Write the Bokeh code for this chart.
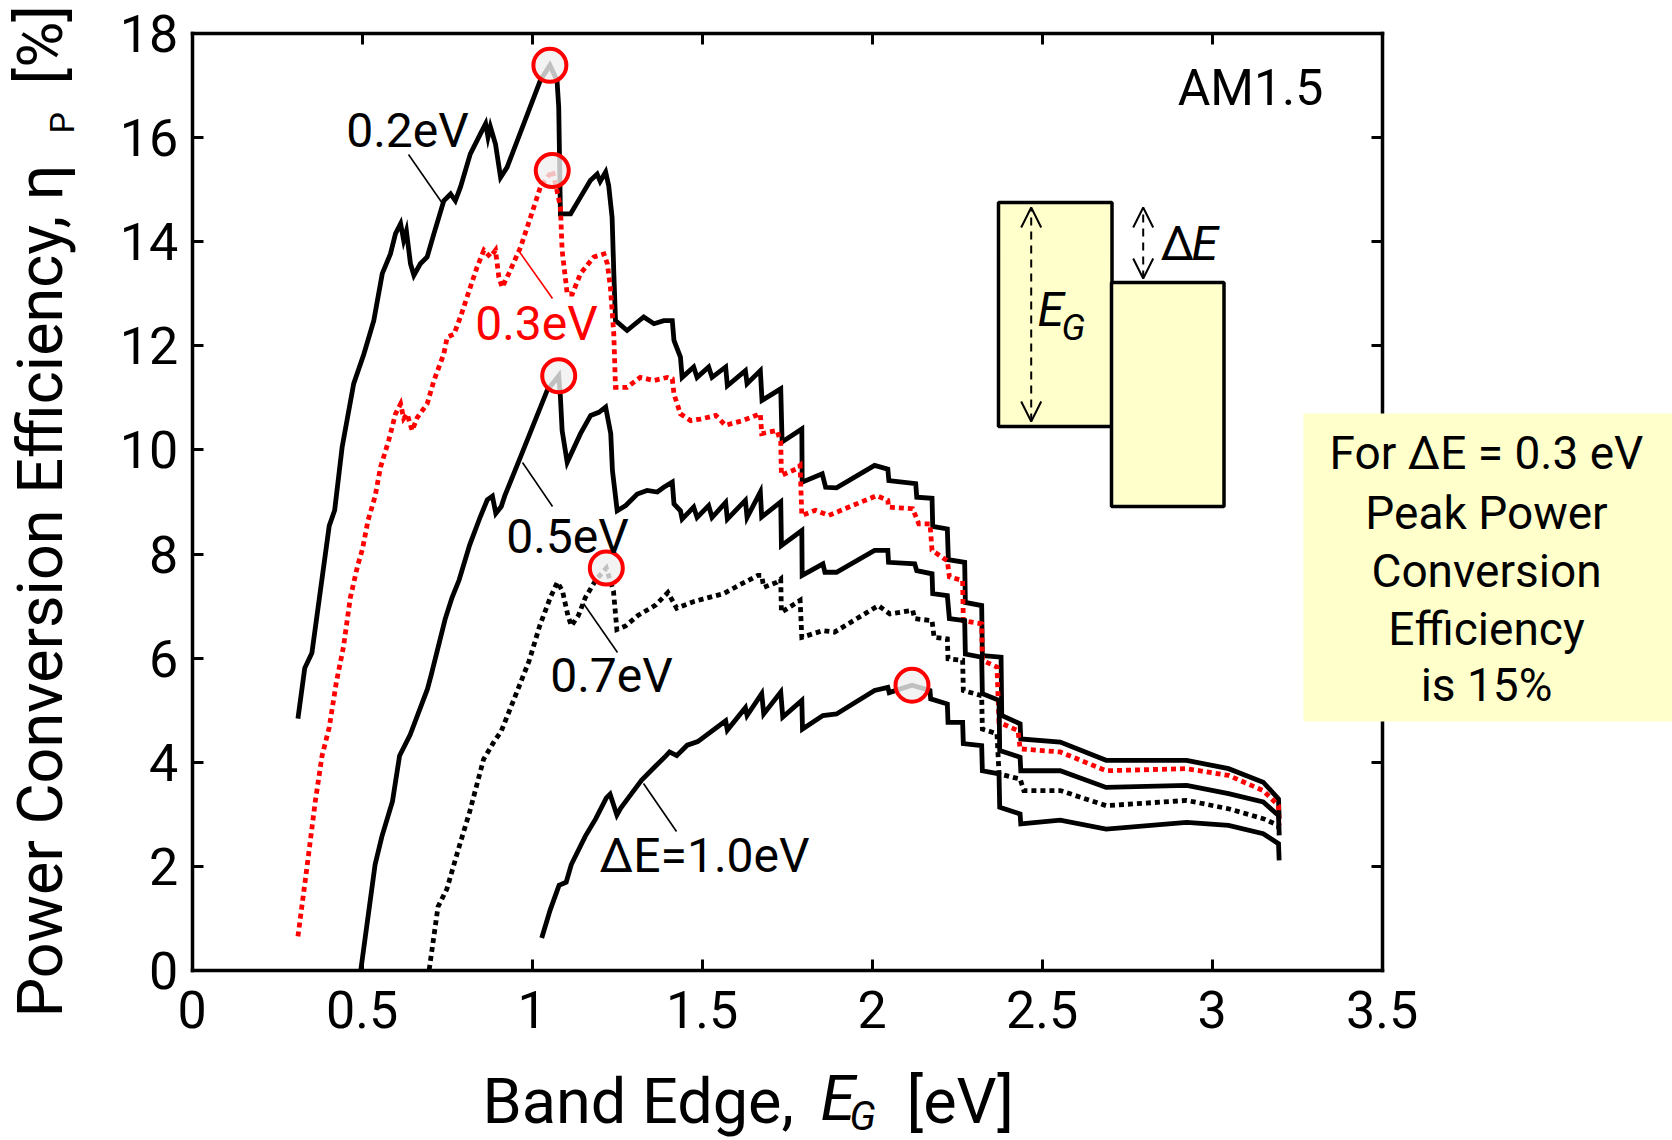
import numpy as np
from bokeh.plotting import figure
from bokeh.models import (Range1d, LinearAxis, FixedTicker, CustomJSTickFormatter,
                          Label, Arrow, OpenHead, BoxAnnotation)
from bokeh.embed import file_html
from bokeh.resources import INLINE

FONT = "Roboto"
RED = "#ff0000"
YELLOW = "#ffffcc"

# ---------------- data ----------------
x_ticks = [0, 0.5, 1, 1.5, 2, 2.5, 3, 3.5]
y_ticks = [0, 2, 4, 6, 8, 10, 12, 14, 16, 18]

e_02 = [0.311,0.331,0.352,0.403,0.419,0.441,0.475,0.505,0.534,0.559,0.583,0.598,0.613,0.622,0.630,0.642,0.652,0.671,0.691,0.711,0.740,0.760,0.774,0.789,0.818,0.848,0.863,0.870,0.877,0.892,0.907,0.926,1.024,1.052,1.073,1.078,1.083,1.113,1.142,1.171,1.191,1.200,1.216,1.225,1.235,1.240,1.245,1.279,1.328,1.358,1.387,1.412,1.417,1.436,1.441,1.475,1.485,1.519,1.529,1.569,1.574,1.627,1.632,1.671,1.676,1.731,1.735,1.793,1.794,1.853,1.863,1.895,2.007,2.046,2.049,2.128,2.131,2.176,2.178,2.221,2.224,2.272,2.274,2.322,2.324,2.379,2.381,2.435,2.437,2.553,2.688,2.925,3.048,3.150,3.195,3.197]
eta_02 = [4.84,5.81,6.10,8.54,8.84,10.05,11.27,11.84,12.48,13.38,13.76,14.15,14.34,14.02,14.20,13.57,13.35,13.57,13.70,14.15,14.78,14.91,14.78,15.04,15.68,16.07,16.26,16.00,16.20,15.87,15.23,15.42,17.09,17.38,17.09,16.58,14.53,14.53,14.85,15.17,15.29,15.15,15.33,15.07,14.46,13.40,12.48,12.29,12.55,12.42,12.48,12.48,12.10,11.78,11.39,11.59,11.39,11.59,11.39,11.59,11.23,11.52,11.27,11.52,10.95,11.17,10.15,10.40,9.38,9.54,9.28,9.27,9.70,9.63,9.41,9.35,9.09,9.07,8.53,8.48,7.89,7.84,7.07,7.01,6.05,6.02,4.90,4.74,4.45,4.39,4.04,4.04,3.88,3.62,3.30,2.92]

e_03 = [0.311,0.336,0.362,0.382,0.403,0.424,0.445,0.465,0.486,0.501,0.517,0.538,0.554,0.578,0.598,0.613,0.622,0.632,0.647,0.662,0.691,0.711,0.740,0.750,0.770,0.789,0.818,0.838,0.858,0.877,0.892,0.902,0.912,0.931,0.966,1.005,1.024,1.059,1.073,1.083,1.088,1.103,1.118,1.142,1.181,1.211,1.221,1.230,1.240,1.245,1.279,1.318,1.358,1.397,1.412,1.417,1.436,1.466,1.495,1.540,1.568,1.619,1.671,1.675,1.720,1.731,1.733,1.776,1.788,1.793,1.833,1.872,2.013,2.046,2.048,2.119,2.137,2.170,2.176,2.221,2.227,2.266,2.268,2.322,2.324,2.367,2.373,2.429,2.435,2.553,2.688,2.925,3.048,3.150,3.195,3.197]
eta_03 = [0.66,1.91,3.25,4.13,4.67,5.54,6.22,7.16,7.76,8.10,8.64,9.11,9.67,10.18,10.69,10.88,10.60,10.69,10.37,10.62,10.88,11.33,11.84,12.16,12.22,12.55,13.12,13.51,13.83,13.70,13.83,13.31,13.12,13.38,13.89,14.66,15.04,15.36,14.97,14.66,13.83,12.99,12.99,13.38,13.70,13.76,13.57,13.12,12.22,11.20,11.20,11.39,11.33,11.39,11.36,11.07,10.69,10.56,10.59,10.66,10.47,10.56,10.69,10.31,10.37,10.15,9.51,9.63,9.70,8.74,8.84,8.74,9.12,9.03,8.90,8.87,8.58,8.58,8.07,7.87,7.56,7.49,6.72,6.66,5.96,5.83,4.77,4.61,4.26,4.20,3.84,3.88,3.75,3.46,3.17,2.79]

e_05 = [0.496,0.517,0.538,0.558,0.589,0.610,0.641,0.692,0.703,0.744,0.764,0.785,0.816,0.847,0.868,0.883,0.893,0.909,0.919,0.971,1.044,1.078,1.083,1.088,1.103,1.142,1.172,1.196,1.216,1.231,1.236,1.250,1.275,1.309,1.338,1.368,1.387,1.412,1.417,1.436,1.441,1.475,1.485,1.519,1.529,1.569,1.574,1.627,1.632,1.671,1.675,1.731,1.733,1.793,1.794,1.855,1.861,1.895,2.007,2.046,2.048,2.125,2.131,2.176,2.178,2.221,2.227,2.272,2.274,2.322,2.324,2.373,2.375,2.435,2.437,2.553,2.688,2.925,3.048,3.150,3.195,3.197]
eta_05 = [0.02,1.03,2.04,2.58,3.25,4.13,4.53,5.41,5.68,6.75,7.16,7.50,8.17,8.71,9.04,9.11,8.78,8.91,9.11,9.95,11.14,11.42,11.01,10.37,9.76,10.31,10.66,10.72,10.82,10.31,9.60,8.83,8.93,9.15,9.22,9.19,9.28,9.38,8.96,8.83,8.67,8.90,8.70,8.93,8.70,8.99,8.67,9.03,8.70,9.19,8.71,9.00,8.16,8.45,7.59,7.81,7.65,7.65,8.07,8.07,7.84,7.81,7.68,7.62,7.24,7.20,6.76,6.72,6.08,6.02,5.32,5.19,4.23,4.10,3.84,3.84,3.52,3.56,3.40,3.24,2.98,2.63]

e_07 = [0.697,0.723,0.749,0.785,0.816,0.857,0.888,0.909,0.950,0.991,1.022,1.053,1.074,1.089,1.105,1.115,1.136,1.156,1.187,1.218,1.239,1.249,1.275,1.311,1.363,1.399,1.425,1.476,1.563,1.608,1.664,1.675,1.681,1.720,1.731,1.733,1.788,1.793,1.855,1.889,2.018,2.052,2.119,2.125,2.176,2.182,2.221,2.223,2.266,2.268,2.322,2.324,2.367,2.373,2.435,2.446,2.553,2.688,2.925,3.048,3.150,3.195,3.197]
eta_07 = [0.02,1.23,1.57,2.38,3.05,4.06,4.40,4.60,5.27,5.95,6.62,7.16,7.46,7.29,6.82,6.62,6.82,7.16,7.50,7.73,7.29,6.55,6.62,6.82,7.02,7.26,6.96,7.09,7.24,7.40,7.59,7.59,7.36,7.46,7.52,6.88,7.11,6.40,6.53,6.50,7.01,6.85,6.92,6.76,6.72,6.40,6.37,5.99,5.96,5.38,5.28,4.64,4.55,3.78,3.68,3.46,3.46,3.17,3.27,3.11,2.92,2.79,2.60]

e_10 = [1.028,1.053,1.079,1.100,1.115,1.156,1.187,1.218,1.229,1.239,1.249,1.260,1.291,1.322,1.363,1.394,1.404,1.425,1.456,1.487,1.569,1.574,1.627,1.632,1.675,1.681,1.731,1.737,1.793,1.795,1.855,1.895,2.007,2.046,2.050,2.117,2.170,2.172,2.221,2.223,2.266,2.268,2.322,2.324,2.373,2.375,2.435,2.437,2.553,2.688,2.925,3.048,3.150,3.195,3.197]
eta_10 = [0.63,1.17,1.64,1.70,2.04,2.58,2.92,3.32,3.39,3.19,2.99,3.12,3.39,3.66,3.93,4.13,4.20,4.13,4.33,4.40,4.80,4.62,5.05,4.90,5.32,4.93,5.35,4.87,5.19,4.64,4.90,4.93,5.38,5.44,5.34,5.48,5.38,5.22,5.12,4.77,4.77,4.36,4.32,3.84,3.78,3.14,3.01,2.82,2.89,2.72,2.85,2.79,2.63,2.44,2.12]

series_names = ["0.2eV", "0.3eV", "0.5eV", "0.7eV", "\u0394E=1.0eV"]
series_e = [e_02, e_03, e_05, e_07, e_10]
series_eta = [eta_02, eta_03, eta_05, eta_07, eta_10]
series_color = ["black", RED, "black", "black", "black"]
series_dash = ["solid", "5 4", "solid", "5 4", "solid"]

# ---------------- figure: frame covers the whole canvas ----------------
W, H = 1672, 1140
X0, PXU = 191.7, 340.0      # pixel of E=0, pixels per eV
Y0, PYU = 970.3, 52.1       # pixel of eta=0, pixels per %
K = 0.36                    # empirical baseline correction (em)

p = figure(width=W, height=H,
           x_range=Range1d(-X0 / PXU, (W - X0) / PXU),
           y_range=Range1d((Y0 - H) / PYU, Y0 / PYU),
           output_backend="svg", toolbar_location=None,
           min_border=0, min_border_left=0, min_border_right=0,
           min_border_top=0, min_border_bottom=0)
p.title.visible = False
p.grid.visible = False
p.outline_line_color = None
p.background_fill_color = "white"
p.border_fill_color = "white"

p.add_layout(LinearAxis(), "above")
p.add_layout(LinearAxis(), "right")

for ax in p.xaxis:
    ax.ticker = FixedTicker(ticks=x_ticks)
    ax.bounds = (0, 3.5)
for ax in p.yaxis:
    ax.ticker = FixedTicker(ticks=y_ticks)
    ax.bounds = (0, 18)
p.below[0].fixed_location = 0
p.above[0].fixed_location = 18
p.left[0].fixed_location = 0
p.right[0].fixed_location = 3.5

for ax in p.axis:
    ax.formatter = CustomJSTickFormatter(code="return tick.toString();")
    ax.major_tick_in = 11
    ax.major_tick_out = 0
    ax.minor_tick_in = 0
    ax.minor_tick_out = 0
    ax.major_tick_line_width = 3
    ax.major_tick_line_color = "black"
    ax.axis_line_width = 3.5
    ax.axis_line_color = "black"
    ax.axis_line_cap = "square"
    ax.major_label_text_font = FONT
    ax.major_label_text_font_size = "52px"
    ax.major_label_text_color = "black"

p.below[0].major_label_standoff = 20
p.left[0].major_label_standoff = 14
for ax in (p.above[0], p.right[0]):
    ax.formatter = CustomJSTickFormatter(code="return '';")
    ax.major_label_text_font_size = "1px"
    ax.major_label_standoff = 0


def dx(X):
    return (X - X0) / PXU


def dy(Y):
    return (Y0 - Y) / PYU


def lab(X, Yb, text, size, color="black", style="normal", align="left", rotated=False):
    """Place text by its baseline, given in picture pixels."""
    if rotated:
        x, y, ang = dx(X - K * size), dy(Yb), np.pi / 2
    else:
        x, y, ang = dx(X), dy(Yb - K * size), 0.0
    p.add_layout(Label(x=x, y=y, text=text, text_font=FONT, text_font_size=f"{size}px",
                       text_color=color, text_font_style=style, text_align=align,
                       text_baseline="alphabetic", angle=ang))


# ---------------- schematic (band diagram) ----------------
p.quad(left=[dx(998)], right=[dx(1111.5)], bottom=[dy(426)], top=[dy(202)],
       fill_color=YELLOW, line_color="black", line_width=3.5)
p.quad(left=[dx(1111)], right=[dx(1223.5)], bottom=[dy(506)], top=[dy(282)],
       fill_color=YELLOW, line_color="black", line_width=3.5)

# ---------------- curves ----------------
for e, eta, col, dash in zip(series_e, series_eta, series_color, series_dash):
    p.line(e, eta, line_color=col, line_width=4.8, line_dash=dash, line_join="miter")

# leader lines from the curve labels (picture pixels)
leaders = [((408, 154), (442, 203)), ((518, 250), (552, 298)), ((522, 462), (552, 506)),
           ((583, 603), (617, 652)), ((643, 783), (676, 831))]
for ((xa, ya), (xb, yb)), col in zip(leaders, series_color):
    p.line([dx(xa), dx(xb)], [dy(ya), dy(yb)], line_color=col, line_width=1.6)

# peak markers taken from each series' maximum
pk_x, pk_y = [], []
for e, eta in zip(series_e, series_eta):
    i = int(np.argmax(eta))
    pk_x.append(e[i])
    pk_y.append(eta[i])
p.scatter(pk_x, pk_y, size=33, marker="circle", line_color=RED, line_width=4,
          fill_color="#f0f0f0", fill_alpha=0.8)

# curve labels (centre x, baseline y in picture pixels)
label_pos = [(407, 147), (536, 340), (567, 553), (611, 692), (704, 872)]
for name, col, (lx, ly) in zip(series_names, series_color, label_pos):
    lab(lx, ly, name, 48, color=col, align="center")

lab(1250, 105, "AM1.5", 50, align="center")

# arrows in schematic
head = dict(size=20, line_width=2)
p.add_layout(Arrow(start=OpenHead(**head), end=OpenHead(**head),
                   x_start=dx(1030.7), y_start=dy(421), x_end=dx(1030.7), y_end=dy(207),
                   line_width=2, line_dash="8 6"))
p.add_layout(Arrow(start=OpenHead(**head), end=OpenHead(**head),
                   x_start=dx(1142.7), y_start=dy(278), x_end=dx(1142.7), y_end=dy(207),
                   line_width=2, line_dash="8 6"))
lab(1037, 326, "E", 48, style="italic")
lab(1061, 340, "G", 36, style="italic")
lab(1160, 260, "\u0394", 48)
lab(1191, 260, "E", 48, style="italic")

# yellow note box (annotation level, so it covers the right axis like the reference)
p.add_layout(BoxAnnotation(left=dx(1303), right=dx(W + 20), bottom=dy(721), top=dy(413),
                           fill_color=YELLOW, fill_alpha=1.0, line_color=None))
note_lines = ["For \u0394E = 0.3 eV", "Peak Power", "Conversion", "Efficiency", "is 15%"]
note_base = [469, 529, 587, 645, 701]
for t, yb in zip(note_lines, note_base):
    lab(1486, yb, t, 46, align="center")

# axis titles
lab(482, 1124, "Band Edge,", 63)
lab(820, 1121, "E", 63, style="italic")
lab(849, 1130, "G", 40, style="italic")
lab(906, 1124, "[eV]", 63)

lab(63, 1017, "Power Conversion Efficiency, \u03b7", 63, rotated=True)
lab(74, 133, "P", 34, rotated=True)
lab(63, 84, "[%]", 63, rotated=True)

open("out.html", "w").write(file_html(p, INLINE))
